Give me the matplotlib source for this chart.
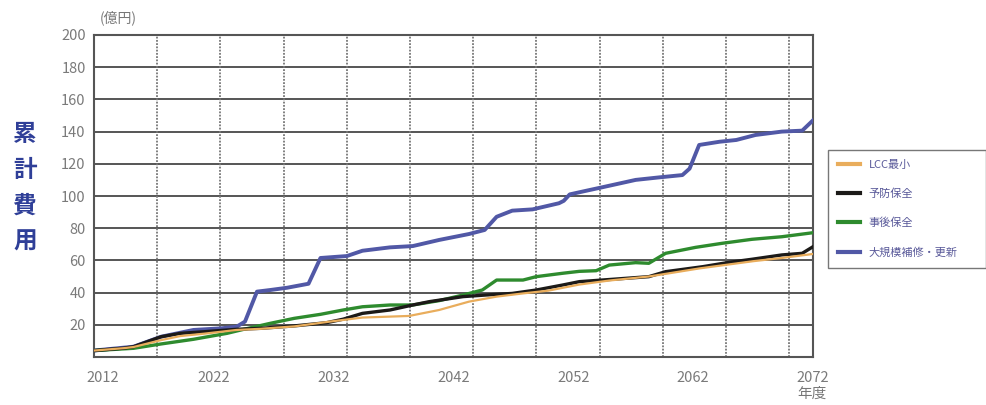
import matplotlib
matplotlib.use("Agg")
import matplotlib.pyplot as plt
from matplotlib.lines import Line2D
import matplotlib.transforms as mtransforms

plt.rcParams['font.family'] = ['Noto Sans CJK JP', 'DejaVu Sans']

# ---- data ----
series_names = ["LCC最小", "予防保全", "事後保全", "大規模補修・更新"]

years_lcc = [2012, 2014.5, 2015.3, 2017.6, 2019.2, 2021.2, 2023.9, 2025.9, 2028.7, 2031.7,
             2034.4, 2038.3, 2040.8, 2043.3, 2045.6, 2047.8, 2049.9, 2052.5, 2055, 2058.3,
             2060, 2062.5, 2065, 2067, 2069.4, 2072]
vals_lcc = [4, 5.5, 6.2, 10.5, 13, 14.5, 16.8, 17.5, 19, 22,
            24.5, 25.5, 29.2, 34.4, 37.5, 39.5, 41.2, 45, 47.5, 50,
            52, 55, 57.5, 59.5, 61.5, 64]

years_prev = [2012, 2014.5, 2015.3, 2017.6, 2019.2, 2021.2, 2023.9, 2025.9, 2028.7, 2031.4,
              2032.8, 2034.4, 2036.7, 2038.6, 2040, 2042.8, 2044.7, 2046.9, 2048.9, 2051.1,
              2052.5, 2054.4, 2058.3, 2059.7, 2062.8, 2065, 2066.9, 2069.4, 2071.1, 2072]
vals_prev = [4, 5.5, 6.4, 12.6, 14.7, 15.7, 17.2, 17.8, 19.3, 21.3,
             23.5, 27.1, 29.2, 32.3, 34.4, 37.5, 38.5, 39.5, 41.6, 44.7,
             46.8, 47.8, 49.9, 53, 56.1, 58.8, 60.7, 63.4, 64.4, 68.5]

years_post = [2012, 2015.3, 2017.6, 2020.3, 2023.1, 2024.5, 2026.7, 2028.7, 2030.9, 2032.8,
              2034.4, 2036.7, 2038.6, 2040.8, 2042.8, 2044.4, 2045.6, 2047.8, 2048.9, 2051.1,
              2052.5, 2053.9, 2055, 2057.2, 2058.3, 2059.7, 2062.2, 2064.4, 2066.9, 2069.4, 2072]
vals_post = [4, 5.4, 8.1, 11, 14.7, 17.2, 20.9, 24, 26.5, 29.2,
             31.2, 32.3, 32.3, 35, 38.5, 41.6, 47.8, 47.8, 49.9, 52,
             53.2, 53.6, 57.1, 58.6, 58.2, 64.4, 68.1, 70.6, 73.1, 74.7, 77.2]

years_big = [2012, 2015.3, 2017.6, 2020.3, 2022.6, 2023.9, 2024.6, 2025.6, 2026.7, 2028.1,
             2029.9, 2030.9, 2033.1, 2034.4, 2036.7, 2038.6, 2040.8, 2043.3, 2044.6, 2045.6,
             2046.9, 2048.6, 2050.8, 2051.2, 2051.7, 2053.1, 2054.4, 2057.2, 2059.2, 2061.1,
             2061.7, 2062.5, 2064.2, 2065.6, 2067.2, 2069.4, 2071.1, 2072]
vals_big = [4, 6.4, 12.6, 16.8, 17.8, 18.8, 22, 40.6, 41.6, 43,
            45.5, 61.5, 62.7, 66, 68.1, 68.9, 72.7, 76.4, 78.9, 87.1,
            90.9, 91.7, 95.5, 97, 101, 103.3, 105.4, 110, 111.6, 113,
            117, 131.7, 133.7, 134.8, 137.9, 140, 140.6, 147]

x_ticks = [2012, 2022, 2032, 2042, 2052, 2062, 2072]
y_ticks = [20, 40, 60, 80, 100, 120, 140, 160, 180, 200]

colors = {"LCC最小": "#e9ad5c", "予防保全": "#1c1a18", "事後保全": "#2e8b2e",
          "大規模補修・更新": "#5158a6"}

# ---- figure ----
fig = plt.figure(figsize=(9.86, 4.05), dpi=100)
ax = fig.add_axes([94/986, 48/405, 719/986, 322/405])
ax.set_xlim(2012, 2072)
ax.set_ylim(0, 200)

# grid
for y in y_ticks[:-1]:
    ax.axhline(y, color="#555555", lw=1.4, zorder=1)
grid_step = 63.3 / 12.0
gx = 2012 + grid_step
while gx < 2071.9:
    ax.axvline(gx, color="#777777", lw=1.3, ls=(0, (1, 0.8)), zorder=1)
    gx += grid_step

ax.plot(years_big, vals_big, color=colors["大規模補修・更新"], lw=2.8, zorder=3)
ax.plot(years_post, vals_post, color=colors["事後保全"], lw=2.4, zorder=4)
ax.plot(years_prev, vals_prev, color=colors["予防保全"], lw=2.4, zorder=5)
ax.plot(years_lcc, vals_lcc, color=colors["LCC最小"], lw=1.6, zorder=6)

for s in ax.spines.values():
    s.set_color("#555555")
    s.set_linewidth(1.5)

ax.set_xticks(x_ticks)
ax.set_xticklabels([str(v) for v in x_ticks])
ax.set_yticks(y_ticks)
ax.set_yticklabels([str(v) for v in y_ticks])
ax.tick_params(axis="both", length=0, labelsize=10.5, labelcolor="#7a7a7a")
ax.tick_params(axis="x", pad=10)
ax.tick_params(axis="y", pad=6)
lbls = ax.get_xticklabels()
lbls[0].set_horizontalalignment("left")
lbls[0].set_transform(lbls[0].get_transform() +
                      mtransforms.ScaledTranslation(-8/100, 0, fig.dpi_scale_trans))

fig.text(100/986, 1 - 18/405, "(億円)", color="#777777", fontsize=10, va="center", ha="left")
fig.text(812/986, 1 - 394/405, "年度", color="#777777", fontsize=10.5, va="center", ha="center")
fig.text(25/986, 1 - 188/405, "累\n計\n費\n用", color="#2f3f98", fontsize=17,
         fontweight="bold", va="center", ha="center", linespacing=1.62)

handles = [Line2D([0], [0], color=colors[n], lw=3) for n in series_names]
leg = fig.legend(handles, series_names, loc="upper left", mode="expand",
                 bbox_to_anchor=(822/986, 1 - 266/405, 170/986, 122/405),
                 frameon=True, fancybox=False,
                 fontsize=8, handlelength=2.0, labelspacing=1.7, borderpad=0.9,
                 handletextpad=0.8, edgecolor="#555555")
leg.get_frame().set_linewidth(1.0)
for t in leg.get_texts():
    t.set_color("#5a5a9a")

fig.savefig("out.png", dpi=100)
